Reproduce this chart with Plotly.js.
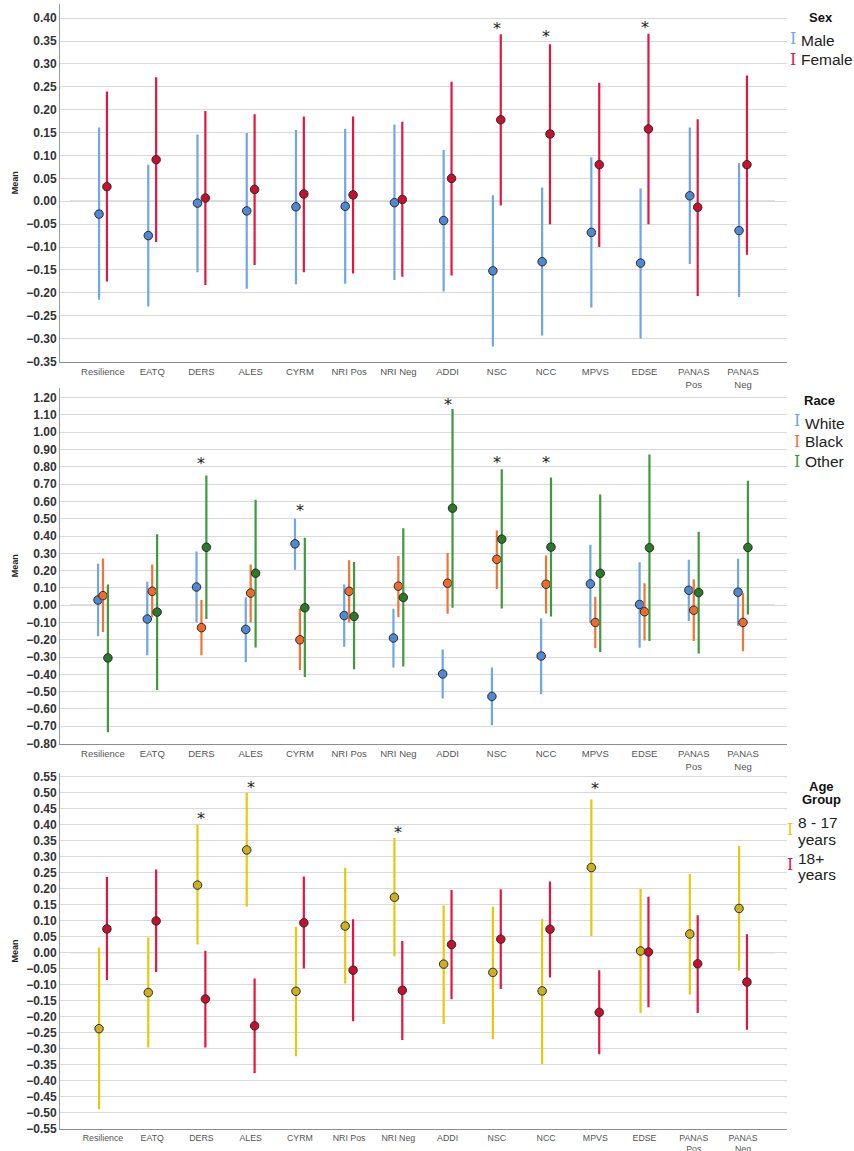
<!DOCTYPE html>
<html>
<head>
<meta charset="utf-8">
<script src="https://cdn.plot.ly/plotly-3.0.1.min.js"></script>
<style>html,body{margin:0;padding:0;background:#fff;}#chart{width:854px;height:1151px;}</style>
</head>
<body>
<div id="chart"></div>
<script>
// ---------- DATA ----------
const categories = ["Resilience","EATQ","DERS","ALES","CYRM","NRI Pos","NRI Neg","ADDI","NSC","NCC","MPVS","EDSE","PANAS Pos","PANAS Neg"];
const tickLabels = ["Resilience","EATQ","DERS","ALES","CYRM","NRI Pos","NRI Neg","ADDI","NSC","NCC","MPVS","EDSE","PANAS<br>Pos","PANAS<br>Neg"];

// Sex
const maleMean   = [-0.028,-0.075,-0.004,-0.021,-0.012,-0.011,-0.003,-0.042,-0.152,-0.132,-0.068,-0.135,0.012,-0.064];
const maleUpper  = [0.161,0.080,0.146,0.149,0.156,0.158,0.168,0.112,0.013,0.030,0.096,0.028,0.161,0.083];
const maleLower  = [-0.215,-0.230,-0.155,-0.191,-0.181,-0.180,-0.172,-0.197,-0.317,-0.293,-0.232,-0.300,-0.137,-0.209];
const femaleMean = [0.032,0.091,0.007,0.026,0.016,0.014,0.004,0.050,0.178,0.147,0.080,0.158,-0.013,0.080];
const femaleUpper= [0.240,0.271,0.197,0.190,0.185,0.185,0.174,0.261,0.365,0.343,0.259,0.366,0.179,0.275];
const femaleLower= [-0.175,-0.089,-0.183,-0.139,-0.155,-0.158,-0.165,-0.162,-0.009,-0.050,-0.100,-0.050,-0.207,-0.117];
const sexStarCats = ["NSC","NCC","EDSE"];
const sexStarY    = [0.385,0.366,0.387];

// Race
const whiteMean  = [0.030,-0.080,0.105,-0.140,0.355,-0.060,-0.190,-0.398,-0.528,-0.294,0.123,0.004,0.086,0.075];
const whiteUpper = [0.240,0.135,0.310,0.045,0.500,0.120,-0.020,-0.256,-0.361,-0.077,0.350,0.248,0.263,0.269];
const whiteLower = [-0.180,-0.290,-0.100,-0.330,0.205,-0.240,-0.360,-0.540,-0.694,-0.515,-0.102,-0.246,-0.092,-0.119];
const blackMean  = [0.055,0.080,-0.130,0.070,-0.200,0.080,0.110,0.127,0.265,0.121,-0.100,-0.038,-0.029,-0.100];
const blackUpper = [0.270,0.235,0.030,0.235,-0.020,0.260,0.285,0.302,0.432,0.288,0.048,0.127,0.150,0.071];
const blackLower = [-0.155,-0.070,-0.290,-0.100,-0.375,-0.100,-0.070,-0.050,0.094,-0.048,-0.248,-0.204,-0.207,-0.267];
const otherMean  = [-0.305,-0.040,0.335,0.185,-0.015,-0.065,0.045,0.561,0.382,0.336,0.184,0.332,0.073,0.334];
const otherUpper = [0.120,0.410,0.750,0.610,0.390,0.250,0.445,1.134,0.786,0.738,0.640,0.872,0.425,0.720];
const otherLower = [-0.735,-0.490,-0.080,-0.245,-0.415,-0.370,-0.355,-0.015,-0.019,-0.065,-0.271,-0.207,-0.280,-0.054];
const raceStarCats = ["DERS","CYRM","ADDI","NSC","NCC"];
const raceStarY    = [0.836,0.567,1.176,0.845,0.843];

// Age group
const youngMean  = [-0.238,-0.125,0.211,0.321,-0.121,0.083,0.173,-0.036,-0.062,-0.120,0.266,0.005,0.058,0.138];
const youngUpper = [0.016,0.047,0.400,0.500,0.081,0.265,0.358,0.147,0.143,0.106,0.479,0.199,0.246,0.333];
const youngLower = [-0.490,-0.297,0.025,0.144,-0.324,-0.097,-0.012,-0.223,-0.270,-0.348,0.052,-0.189,-0.131,-0.056];
const adultMean  = [0.074,0.099,-0.145,-0.229,0.093,-0.055,-0.118,0.025,0.042,0.073,-0.187,0.002,-0.035,-0.092];
const adultUpper = [0.236,0.260,0.006,-0.081,0.238,0.104,0.036,0.196,0.198,0.222,-0.055,0.175,0.117,0.057];
const adultLower = [-0.086,-0.061,-0.297,-0.377,-0.050,-0.215,-0.273,-0.146,-0.114,-0.078,-0.318,-0.171,-0.189,-0.241];
const ageStarCats = ["DERS","ALES","NRI Neg","MPVS"];
const ageStarY    = [0.430,0.527,0.384,0.521];

// ---------- BUILD ----------
const W = 854, H = 1151;
const px = x => x / W;
const py = y => 1 - y / H;
const idx = categories.map((c, i) => i);

function series(mean, upper, lower, offset, lineColor, fillColor, xa, ya, name) {
  return {
    type: 'scatter', mode: 'markers', name: name,
    x: idx.map(i => i + offset), y: mean,
    xaxis: xa, yaxis: ya, showlegend: false, hoverinfo: 'skip',
    marker: {size: 8.5, color: fillColor, line: {color: '#2a2a2a', width: 1}},
    error_y: {type: 'data', symmetric: false,
      array: mean.map((m, i) => upper[i] - m),
      arrayminus: mean.map((m, i) => m - lower[i]),
      width: 0, thickness: 2.2, color: lineColor}
  };
}

const cBlueL = '#6ea6e6', cBlueF = '#4f88d3';
const cRedL = '#e4163f', cRedF = '#c8102e';
const cOrL = '#f07437', cOrF = '#ef6a2c';
const cGrL = '#3d9a3d', cGrF = '#2b7a2b';
const cYeL = '#e6c90a', cYeF = '#cdb01f';

const data = [
  series(maleMean, maleUpper, maleLower, -0.08, cBlueL, cBlueF, 'x', 'y', 'Male'),
  series(femaleMean, femaleUpper, femaleLower, 0.08, cRedL, cRedF, 'x', 'y', 'Female'),
  series(whiteMean, whiteUpper, whiteLower, -0.1, cBlueL, cBlueF, 'x2', 'y2', 'White'),
  series(blackMean, blackUpper, blackLower, 0.0, cOrL, cOrF, 'x2', 'y2', 'Black'),
  series(otherMean, otherUpper, otherLower, 0.1, cGrL, cGrF, 'x2', 'y2', 'Other'),
  series(youngMean, youngUpper, youngLower, -0.08, cYeL, cYeF, 'x3', 'y3', '8 - 17 years'),
  series(adultMean, adultUpper, adultLower, 0.08, cRedL, cRedF, 'x3', 'y3', '18+ years')
];

const xRange = [-0.873, 13.894];
const xDomain = [px(60), px(787)];
function xAxis(anchor, fsize, tlen) {
  return {
    domain: xDomain, range: xRange, anchor: anchor,
    tickmode: 'array', tickvals: idx, ticktext: tickLabels,
    showgrid: false, zeroline: false,
    showline: true, linecolor: '#8c8c8c', linewidth: 1.5,
    ticks: 'outside', ticklen: tlen, tickcolor: 'rgba(0,0,0,0)',
    tickfont: {family: 'Liberation Sans, Arial, sans-serif', size: fsize, color: '#555'},
    fixedrange: true
  };
}
function yAxis(anchor, domain, range, dtick) {
  return {
    domain: domain, range: range, anchor: anchor,
    tick0: 0, dtick: dtick, tickformat: '.2f',
    showgrid: true, gridcolor: '#d9d9d9', gridwidth: 1,
    zeroline: false,
    showline: true, linecolor: '#9a9a9a', linewidth: 1,
    ticks: '',
    tickfont: {family: 'Liberation Sans, Arial, sans-serif', size: 12, color: '#333', weight: 'bold'},
    title: {text: 'Mean', standoff: 6, font: {family: 'Liberation Sans, Arial, sans-serif', size: 9, color: '#222', weight: 'bold'}},
    fixedrange: true
  };
}

const annotations = [];
function stars(cats, ys, xref, yref) {
  cats.forEach((c, k) => {
    annotations.push({x: categories.indexOf(c), y: ys[k], xref: xref, yref: yref, text: '*',
      showarrow: false, xanchor: 'center', yanchor: 'middle', yshift: -3,
      font: {family: 'DejaVu Sans, sans-serif', size: 16, color: '#222'}});
  });
}
stars(sexStarCats, sexStarY, 'x', 'y');
stars(raceStarCats, raceStarY, 'x2', 'y2');
stars(ageStarCats, ageStarY, 'x3', 'y3');

function legTitle(text, x, y) {
  annotations.push({xref: 'paper', yref: 'paper', x: px(x), y: py(y), text: text, showarrow: false,
    xanchor: 'center', yanchor: 'middle',
    font: {family: 'Liberation Sans, Arial, sans-serif', size: 13, color: '#111', weight: 'bold'}});
}
function legI(color, x, y) {
  annotations.push({xref: 'paper', yref: 'paper', x: px(x), y: py(y), text: 'I', showarrow: false,
    xanchor: 'center', yanchor: 'middle',
    font: {family: 'DejaVu Serif, serif', size: 16, color: color}});
}
function legText(text, x, y) {
  annotations.push({xref: 'paper', yref: 'paper', x: px(x), y: py(y), text: text, showarrow: false,
    xanchor: 'left', yanchor: 'middle',
    font: {family: 'Liberation Sans, Arial, sans-serif', size: 15.5, color: '#222'}});
}
// Sex legend
legTitle('Sex', 821, 17);
legI(cBlueL, 793, 39); legText('Male', 799, 40);
legI(cRedL, 793, 59); legText('Female', 799, 60);
// Race legend
legTitle('Race', 819, 400);
legI(cBlueL, 797, 421); legText('White', 803, 423);
legI(cOrL, 797, 441); legText('Black', 803, 442);
legI(cGrL, 797, 461); legText('Other', 803, 462);
// Age legend
legTitle('Age', 821, 786);
legTitle('Group', 821, 799);
legI(cYeL, 790, 829); legText('8 - 17', 796, 822); legText('years', 796, 839);
legI(cRedL, 790, 864); legText('18+', 796, 858); legText('years', 796, 874);

const zx0 = -0.67, zx1 = 13.65;
const shapes = [
  {type: 'line', xref: 'x', yref: 'y', x0: zx0, x1: zx1, y0: 0, y1: 0, line: {color: '#808080', width: 1.2}, layer: 'below'},
  {type: 'line', xref: 'x2', yref: 'y2', x0: zx0, x1: zx1, y0: 0, y1: 0, line: {color: '#c4c4c4', width: 1.2}, layer: 'below'},
  {type: 'line', xref: 'x3', yref: 'y3', x0: zx0, x1: zx1, y0: 0, y1: 0, line: {color: '#c4c4c4', width: 1.2}, layer: 'below'}
];

const layout = {
  width: W, height: H,
  margin: {l: 0, r: 0, t: 0, b: 0},
  paper_bgcolor: '#fff', plot_bgcolor: '#fff',
  showlegend: false,
  xaxis: xAxis('y', 9.5, 1),
  xaxis2: xAxis('y2', 9.5, 1),
  xaxis3: xAxis('y3', 8.8, 0),
  yaxis: yAxis('x', [py(361.5), py(4)], [-0.35, 0.431], 0.05),
  yaxis2: yAxis('x2', [py(743.5), py(388)], [-0.80, 1.256], 0.1),
  yaxis3: yAxis('x3', [py(1128.5), py(773.3)], [-0.55, 0.5606], 0.05),
  annotations: annotations,
  shapes: shapes
};

Plotly.newPlot('chart', data, layout, {staticPlot: true, displayModeBar: false});
</script>
</body>
</html>
